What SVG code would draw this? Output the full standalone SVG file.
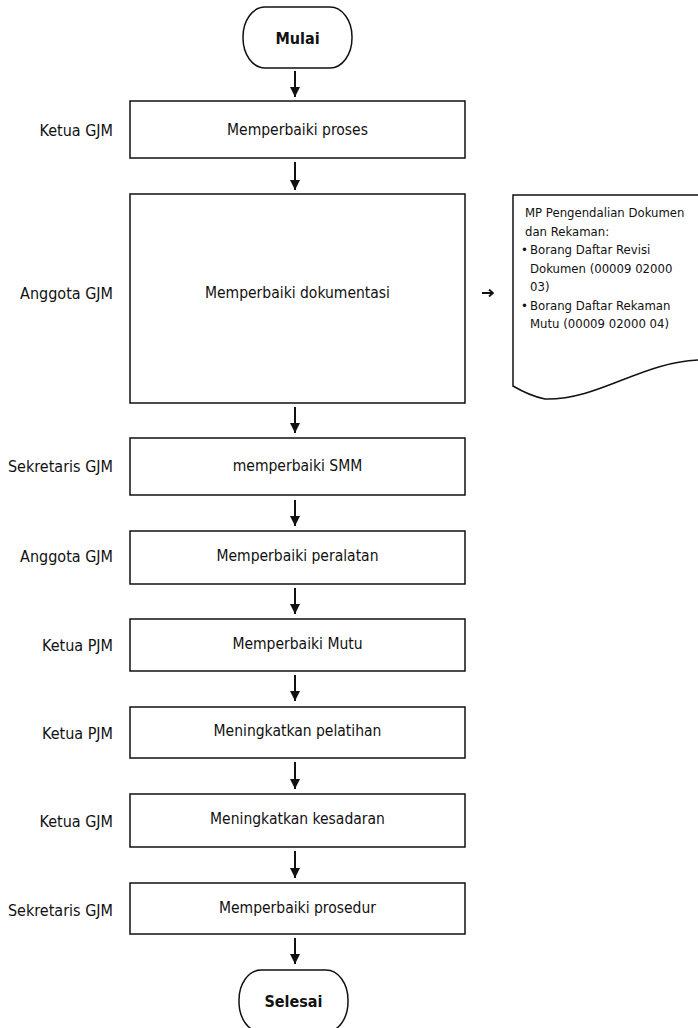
<svg xmlns="http://www.w3.org/2000/svg" width="698" height="1028" viewBox="0 0 698 1028">
<style>
  .box { fill: #fff; stroke: #111; stroke-width: 1.5; }
  .term { fill: #fff; stroke: #111; stroke-width: 1.5; }
  .t { font-family: "DejaVu Sans Condensed", "DejaVu Sans", sans-serif; font-size: 15.5px; fill: #111; }
  .c { text-anchor: middle; dominant-baseline: central; }
  .lbl { font-family: "DejaVu Sans Condensed", "DejaVu Sans", sans-serif; font-size: 16px; fill: #111; text-anchor: end; dominant-baseline: central; }
  .b { font-weight: bold; font-size: 16px; }
  .doc { font-family: "DejaVu Sans Condensed", "DejaVu Sans", sans-serif; font-size: 13px; fill: #111; }
  .conn { stroke: #111; stroke-width: 2; fill: none; }
</style>
<defs>
  <marker id="ah" markerUnits="userSpaceOnUse" markerWidth="12" markerHeight="12" viewBox="0 0 12 12" refX="6" refY="12" orient="0">
    <path d="M1,2 L11,2 L6,12 Z" fill="#111"/>
  </marker>
  <marker id="ahr" markerUnits="userSpaceOnUse" markerWidth="8" markerHeight="8" viewBox="0 0 8 8" refX="7" refY="4" orient="auto">
    <path d="M3,0.5 L7,4 L3,7.5" fill="none" stroke="#111" stroke-width="1.8"/>
  </marker>
</defs>
<rect width="698" height="1028" fill="#fff"/>

<g id="connectors">
  <line class="conn" x1="295" y1="71" x2="295" y2="97" marker-end="url(#ah)"/>
  <line class="conn" x1="295" y1="162" x2="295" y2="190" marker-end="url(#ah)"/>
  <line class="conn" x1="295" y1="407" x2="295" y2="433" marker-end="url(#ah)"/>
  <line class="conn" x1="295" y1="500" x2="295" y2="526" marker-end="url(#ah)"/>
  <line class="conn" x1="295" y1="588" x2="295" y2="614" marker-end="url(#ah)"/>
  <line class="conn" x1="295" y1="675" x2="295" y2="701" marker-end="url(#ah)"/>
  <line class="conn" x1="295" y1="762" x2="295" y2="789" marker-end="url(#ah)"/>
  <line class="conn" x1="295" y1="851" x2="295" y2="878" marker-end="url(#ah)"/>
  <line class="conn" x1="295" y1="938" x2="295" y2="964" marker-end="url(#ah)"/>
  <line class="conn" stroke-width="1.8" x1="482" y1="293" x2="493" y2="293" marker-end="url(#ahr)"/>
</g>

<g id="mulai">
  <rect class="term" x="243" y="7" width="109" height="61" rx="22" ry="30"/>
  <text class="t c b" x="297.5" y="38">Mulai</text>
</g>

<g id="n1">
  <text class="lbl" x="113" y="130">Ketua GJM</text>
  <rect class="box" x="130" y="101" width="335" height="57"/>
  <text class="t c" x="297.5" y="129.5">Memperbaiki proses</text>
</g>

<g id="n2">
  <text class="lbl" x="113" y="293">Anggota GJM</text>
  <rect class="box" x="130" y="194" width="335" height="209"/>
  <text class="t c" x="297.5" y="293">Memperbaiki dokumentasi</text>
</g>

<g id="doc">
  <path class="box" d="M513,195 L700,195 L700,360 C 640,362 600,400 545,399 Q 530,396 513,386 Z"/>
  <text class="doc" x="525" y="217">MP Pengendalian Dokumen</text>
  <text class="doc" x="525" y="235.5">dan Rekaman:</text>
  <text class="doc" x="521" y="254">•</text>
  <text class="doc" x="530" y="254">Borang Daftar Revisi</text>
  <text class="doc" x="530" y="272.5">Dokumen (00009 02000</text>
  <text class="doc" x="530" y="291">03)</text>
  <text class="doc" x="521" y="309.5">•</text>
  <text class="doc" x="530" y="309.5">Borang Daftar Rekaman</text>
  <text class="doc" x="530" y="328">Mutu (00009 02000 04)</text>
</g>

<g id="n3">
  <text class="lbl" x="113" y="466">Sekretaris GJM</text>
  <rect class="box" x="130" y="438" width="335" height="57"/>
  <text class="t c" x="297.5" y="466">memperbaiki SMM</text>
</g>

<g id="n4">
  <text class="lbl" x="113" y="556">Anggota GJM</text>
  <rect class="box" x="130" y="531" width="335" height="53"/>
  <text class="t c" x="297.5" y="556">Memperbaiki peralatan</text>
</g>

<g id="n5">
  <text class="lbl" x="113" y="645">Ketua PJM</text>
  <rect class="box" x="130" y="619" width="335" height="52"/>
  <text class="t c" x="297.5" y="644">Memperbaiki Mutu</text>
</g>

<g id="n6">
  <text class="lbl" x="113" y="733">Ketua PJM</text>
  <rect class="box" x="130" y="707" width="335" height="51"/>
  <text class="t c" x="297.5" y="731">Meningkatkan pelatihan</text>
</g>

<g id="n7">
  <text class="lbl" x="113" y="821">Ketua GJM</text>
  <rect class="box" x="130" y="794" width="335" height="53"/>
  <text class="t c" x="297.5" y="819">Meningkatkan kesadaran</text>
</g>

<g id="n8">
  <text class="lbl" x="113" y="910">Sekretaris GJM</text>
  <rect class="box" x="130" y="883" width="335" height="51"/>
  <text class="t c" x="297.5" y="908">Memperbaiki prosedur</text>
</g>

<g id="selesai">
  <rect class="term" x="239" y="970" width="109" height="62" rx="22" ry="30"/>
  <text class="t c b" x="293.5" y="1001">Selesai</text>
</g>
</svg>
